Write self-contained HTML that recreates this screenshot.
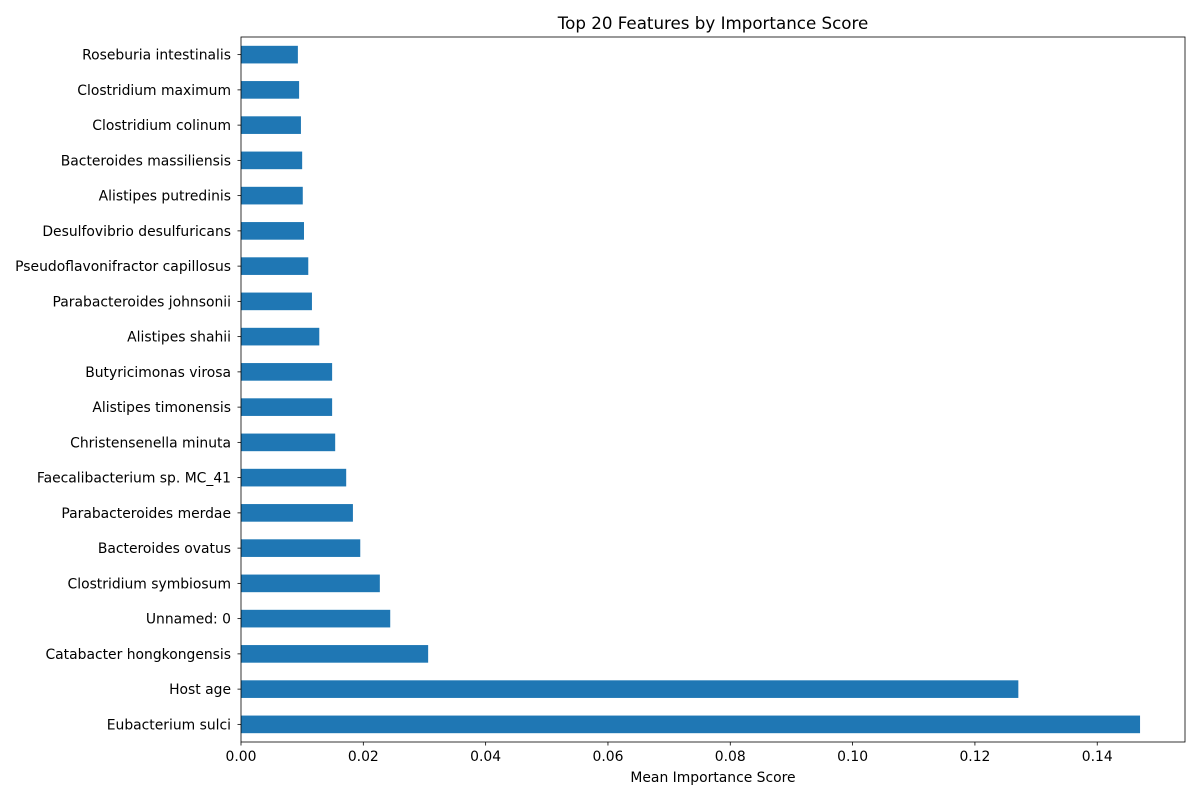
<!DOCTYPE html>
<html><head><meta charset="utf-8"><style>
body{margin:0;background:#fff;font-family:"Liberation Sans","DejaVu Sans",sans-serif;}
text{font-family:"DejaVu Sans","Liberation Sans",sans-serif;}
</style></head><body>
<svg id="chart" width="1200" height="800" xmlns="http://www.w3.org/2000/svg"></svg>
<script>
const categories = ["Eubacterium sulci","Host age","Catabacter hongkongensis","Unnamed: 0","Clostridium symbiosum","Bacteroides ovatus","Parabacteroides merdae","Faecalibacterium sp. MC_41","Christensenella minuta","Alistipes timonensis","Butyricimonas virosa","Alistipes shahii","Parabacteroides johnsonii","Pseudoflavonifractor capillosus","Desulfovibrio desulfuricans","Alistipes putredinis","Bacteroides massiliensis","Clostridium colinum","Clostridium maximum","Roseburia intestinalis"];
const values = [0.147,0.1271,0.0306,0.0244,0.0227,0.0195,0.0183,0.0172,0.0154,0.0149,0.0149,0.0128,0.0116,0.0110,0.0103,0.0101,0.0100,0.0098,0.0095,0.0093];
const xTicks = [0,0.02,0.04,0.06,0.08,0.10,0.12,0.14];
const xTickLabels = ["0.00","0.02","0.04","0.06","0.08","0.10","0.12","0.14"];

const svg = document.getElementById('chart');
const NS = "http://www.w3.org/2000/svg";
const L=241,R=1185,T=37,B=742;
const xMax = Math.max(...values)*1.05;
const xs = v => L + v/xMax*(R-L);
const n = categories.length;
const step = (B-T)/n;
const yc = i => B - (i+0.5)*step;
function mk(tag, attrs, txt){const e=document.createElementNS(NS,tag);for(const k in attrs)e.setAttribute(k,attrs[k]);if(txt!==undefined)e.textContent=txt;svg.appendChild(e);return e;}

values.forEach((v,i)=>{
  const r = mk('rect',{x:xs(0),y:yc(i)-step*0.25,width:xs(v)-xs(0),height:step*0.5,fill:'#1f77b4'});
  
  
  const tk = mk('line',{x1:L-3.5,x2:L,y1:yc(i),y2:yc(i),stroke:'#000','stroke-width':0.8});
  
  
  const t = mk('text',{x:L-10,y:yc(i)+5,'text-anchor':'end','font-size':13.9,fill:'#000'},categories[i]);
  
  
});
xTicks.forEach((v,i)=>{
  const tk = mk('line',{x1:xs(v),x2:xs(v),y1:B,y2:B+3.5,stroke:'#000','stroke-width':0.8});
  
  
  const t = mk('text',{x:xs(v),y:B+19,'text-anchor':'middle','font-size':13.9,fill:'#000'},xTickLabels[i]);
  
  
});
const frame = mk('rect',{x:L,y:T,width:R-L,height:B-T,fill:'none',stroke:'#000','stroke-width':0.8});


const xt = mk('text',{x:(L+R)/2,y:782,'text-anchor':'middle','font-size':13.9,fill:'#000'},'Mean Importance Score');


const title = mk('text',{x:(L+R)/2,y:29,'text-anchor':'middle','font-size':16.7,fill:'#000'},'Top 20 Features by Importance Score');


</script>
</body></html>
